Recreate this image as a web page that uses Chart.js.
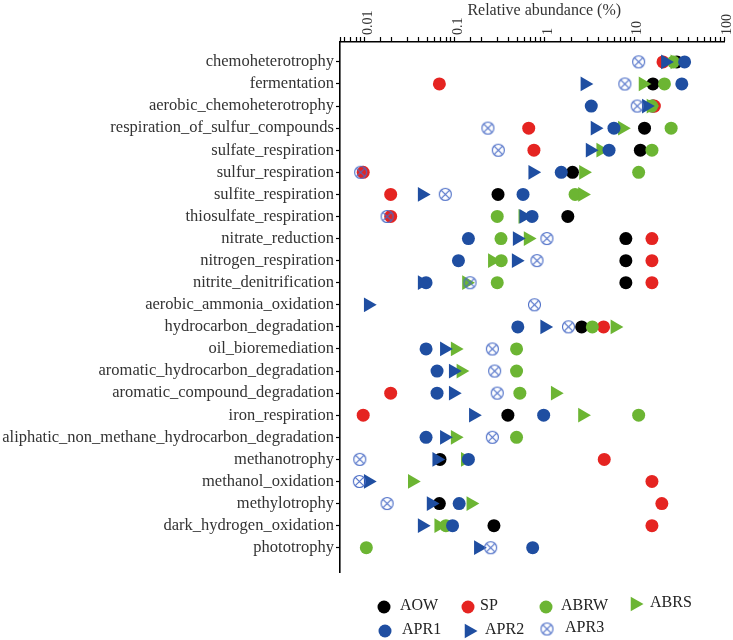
<!DOCTYPE html>
<html>
<head>
<meta charset="utf-8">
<script src="https://cdn.jsdelivr.net/npm/chart.js@4/dist/chart.umd.min.js"></script>
<style>
  body { margin: 0; background: #fff; }
  canvas { display: block; }
</style>
</head>
<body>
<canvas id="myChart" width="733" height="640"></canvas>
<script>
const categories = ['chemoheterotrophy', 'fermentation', 'aerobic_chemoheterotrophy', 'respiration_of_sulfur_compounds',
    'sulfate_respiration', 'sulfur_respiration', 'sulfite_respiration', 'thiosulfate_respiration',
    'nitrate_reduction', 'nitrogen_respiration', 'nitrite_denitrification', 'aerobic_ammonia_oxidation',
    'hydrocarbon_degradation', 'oil_bioremediation', 'aromatic_hydrocarbon_degradation', 'aromatic_compound_degradation',
    'iron_respiration', 'aliphatic_non_methane_hydrocarbon_degradation', 'methanotrophy', 'methanol_oxidation',
    'methylotrophy', 'dark_hydrogen_oxidation', 'phototrophy'];

// relative abundance (%), one value per category, null = not shown
const AOW  = [29.5, 16, 16, 12.9, 11.6, 2.04, 0.303, 1.81, 8.0, 8.0, 8.0, null, 2.58, null, null, null, 0.39, null, 0.0686, null, 0.0675, 0.273, null];
const SP   = [20.7, 0.0675, 16.6, 0.665, 0.76, 0.0096, 0.0194, 0.0194, 15.6, 15.6, 15.6, null, 4.52, null, null, 0.0194, 0.0096, null, 4.6, 15.6, 20.1, 15.6, null];
const ABRW = [27, 21.5, 15.5, 25.5, 15.6, 11.1, 2.18, 0.297, 0.327, 0.329, 0.297, null, 3.39, 0.487, 0.487, 0.53, 11.1, 0.487, null, null, null, 0.0798, 0.0104];
const ABRS = [28, 12.4, 15.2, 7.3, 4.2, 2.7, 2.63, 0.571, 0.654, 0.262, 0.135, null, 6.04, 0.101, 0.117, 1.31, 2.63, 0.101, 0.131, 0.0337, 0.151, 0.0663, null];
const APR1 = [36, 33.5, 3.3, 5.9, 5.2, 1.53, 0.575, 0.724, 0.142, 0.110, 0.048, null, 0.503, 0.048, 0.0636, 0.0636, 0.975, 0.048, 0.142, null, 0.112, 0.0946, 0.736];
const APR2 = [22, 2.8, 13.5, 3.63, 3.2, 0.736, 0.0434, 0.586, 0.494, 0.482, 0.0434, 0.0109, 1.0, 0.0766, 0.0962, 0.0962, 0.161, 0.0766, 0.063, 0.0109, 0.0546, 0.0434, 0.183];
const APR3 = [11.1, 7.8, 10.7, 0.234, 0.305, 0.009, 0.0785, 0.0177, 1.06, 0.822, 0.148, 0.77, 1.84, 0.262, 0.278, 0.297, null, 0.262, 0.0088, 0.0087, 0.0177, null, 0.251];

const xTickLabels = ['0.01', '0.1', '1', '10', '100'];

Chart.defaults.font.family = "'Liberation Serif', 'Times New Roman', serif";
Chart.defaults.color = '#333';

// circle with an X for APR3
const crossCircle = document.createElement('canvas');
crossCircle.width = 15;
crossCircle.height = 15;
(function () {
    const c = crossCircle.getContext('2d');
    c.strokeStyle = '#4a6cc6';
    c.lineWidth = 1.1;
    c.beginPath();
    c.arc(7.5, 7.5, 6, 0, Math.PI * 2);
    c.stroke();
    c.beginPath();
    c.moveTo(3.3, 3.3); c.lineTo(11.7, 11.7);
    c.moveTo(11.7, 3.3); c.lineTo(3.3, 11.7);
    c.stroke();
})();

function toPoints(values) {
    return values.map((v, i) => v == null ? null : { x: v, y: i }).filter(p => p);
}

const series = [
    { label: 'AOW', values: AOW, color: '#000000', style: 'circle', radius: 6.5 },
    { label: 'SP', values: SP, color: '#e52421', style: 'circle', radius: 6.5 },
    { label: 'ABRW', values: ABRW, color: '#6cb533', style: 'circle', radius: 6.5 },
    { label: 'ABRS', values: ABRS, color: '#6cb533', style: 'triangle', radius: 8.5 },
    { label: 'APR1', values: APR1, color: '#1f4ea1', style: 'circle', radius: 6.5 },
    { label: 'APR2', values: APR2, color: '#1f4ea1', style: 'triangle', radius: 8.5 },
    { label: 'APR3', values: APR3, color: '#4a6cc6', style: crossCircle, radius: 7 }
];

const datasets = series.map((s, i) => ({
    label: s.label,
    data: toPoints(s.values),
    pointStyle: s.style,
    pointRadius: s.radius,
    pointRotation: s.style === 'triangle' ? 90 : 0,
    backgroundColor: s.color,
    borderColor: s.color,
    borderWidth: 0,
    showLine: false,
    order: series.length - i
}));

// legend laid out in two rows under the plot
const legendSlots = [
    { x: 384, y: 607 }, { x: 468, y: 607 }, { x: 546, y: 607 }, { x: 635, y: 604 },
    { x: 385, y: 631 }, { x: 469, y: 631 }, { x: 547, y: 629 }
];
const legendTextOffset = [16, 12, 15, 15, 17, 16, 18];

const legendPlugin = {
    id: 'legendPlugin',
    afterDraw(chart) {
        const ctx = chart.ctx;
        series.forEach((s, i) => {
            const slot = legendSlots[i];
            ctx.save();
            ctx.fillStyle = s.color;
            ctx.strokeStyle = s.color;
            ctx.lineWidth = 0;
            Chart.helpers.drawPoint(ctx, {
                pointStyle: s.style,
                radius: s.radius,
                rotation: s.style === 'triangle' ? 90 : 0,
                borderWidth: 0
            }, slot.x, slot.y);
            ctx.fillStyle = '#222';
            ctx.font = "16px 'Liberation Serif'";
            ctx.textBaseline = 'middle';
            ctx.textAlign = 'left';
            ctx.fillText(s.label, slot.x + legendTextOffset[i], slot.y - 1);
            ctx.restore();
        });
    }
};

new Chart(document.getElementById('myChart'), {
    type: 'scatter',
    data: { datasets: datasets },
    options: {
        responsive: false,
        animation: false,
        devicePixelRatio: 1,
        layout: { padding: { left: 0, right: 6, top: 0, bottom: 68 } },
        plugins: {
            legend: { display: false },
            tooltip: { enabled: false }
        },
        scales: {
            x: {
                type: 'logarithmic',
                position: 'top',
                min: 0.0053,
                max: 100,
                title: {
                    display: true,
                    text: '      Relative abundance (%)',
                    font: { size: 16 },
                    color: '#333',
                    padding: { top: 1, bottom: 0 }
                },
                ticks: {
                    autoSkip: false,
                    minRotation: 90,
                    maxRotation: 90,
                    padding: 2,
                    labelOffset: 20,
                    font: { size: 14 },
                    color: '#333',
                    callback: function (value) {
                        const e = Math.log10(value);
                        if (Math.abs(e - Math.round(e)) > 1e-6) return '';
                        return xTickLabels[Math.round(e) + 2];
                    }
                },
                grid: { drawOnChartArea: false, tickLength: 5, color: '#000', tickWidth: 1.2 },
                border: { color: '#000', width: 1.6 },
                afterFit: function (scale) { scale.height = 42; }
            },
            y: {
                type: 'linear',
                reverse: true,
                min: -0.9,
                max: 23.1,
                afterBuildTicks: function (scale) {
                    scale.ticks = categories.map((c, i) => ({ value: i }));
                },
                ticks: {
                    autoSkip: false,
                    padding: 2,
                    font: { size: 16.5 },
                    color: '#333',
                    callback: function (value) { return categories[value]; }
                },
                grid: { drawOnChartArea: false, tickLength: 4, color: '#000', tickWidth: 1.2 },
                border: { color: '#000', width: 1.6 },
                afterFit: function (scale) { scale.width = 340; }
            }
        }
    },
    plugins: [legendPlugin]
});
</script>
</body>
</html>
